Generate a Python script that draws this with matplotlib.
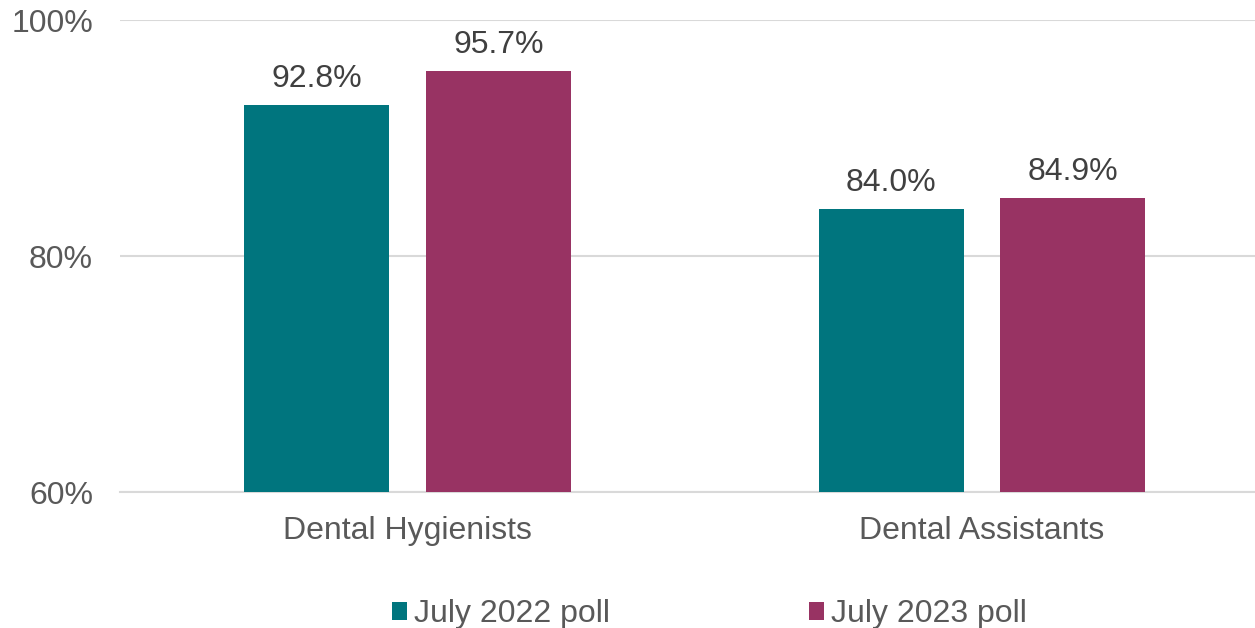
import matplotlib.pyplot as plt
import numpy as np

plt.rcParams['font.family'] = ['Liberation Sans', 'DejaVu Sans']

categories = ['Dental Hygienists', 'Dental Assistants']
series_names = ['July 2022 poll', 'July 2023 poll']
poll_2022 = [92.8, 84.0]
poll_2023 = [95.7, 84.9]
yticks = [60, 80, 100]

colors = ['#00757E', '#983363']

fig = plt.figure(figsize=(12.55, 6.28), dpi=100)
ax = fig.add_axes([120 / 1255, 136 / 628, 1135 / 1255, 472 / 628])

x = np.arange(len(categories))
width = 0.252
offset = 0.158
for vals, dx, c, name in zip([poll_2022, poll_2023], [-offset, offset], colors, series_names):
    bars = ax.bar(x + dx, vals, width, color=c, label=name, zorder=3)
    for b, v in zip(bars, vals):
        ax.annotate(f'{v:.1f}%', (b.get_x() + b.get_width() / 2, v),
                    xytext=(0, 8), textcoords='offset points',
                    ha='center', va='bottom', fontsize=23, color='#404040')

ax.set_ylim(60, 100)
ax.set_xlim(-0.5004, 1.475)
ax.set_yticks(yticks)
ax.set_yticklabels([f'{t}%' for t in yticks])
ax.set_xticks(x)
ax.set_xticklabels(categories)
ax.tick_params(axis='both', length=0, labelsize=23, colors='#595959')
ax.tick_params(axis='y', pad=19.5)
ax.tick_params(axis='x', pad=17.5)
ax.yaxis.grid(True, color='#D9D9D9', linewidth=1.5, zorder=0)
for s in ['top', 'right', 'left']:
    ax.spines[s].set_visible(False)
ax.spines['bottom'].set_color('#D9D9D9')
ax.spines['bottom'].set_linewidth(1.5)

leg = fig.legend(loc='center', bbox_to_anchor=(0.5653, 0.022), ncol=2, frameon=False,
                 fontsize=23, handlelength=0.47, handleheight=0.47, handletextpad=0.22,
                 columnspacing=6.2)
for t in leg.get_texts():
    t.set_color('#595959')

fig.savefig('out.png', dpi=100)
